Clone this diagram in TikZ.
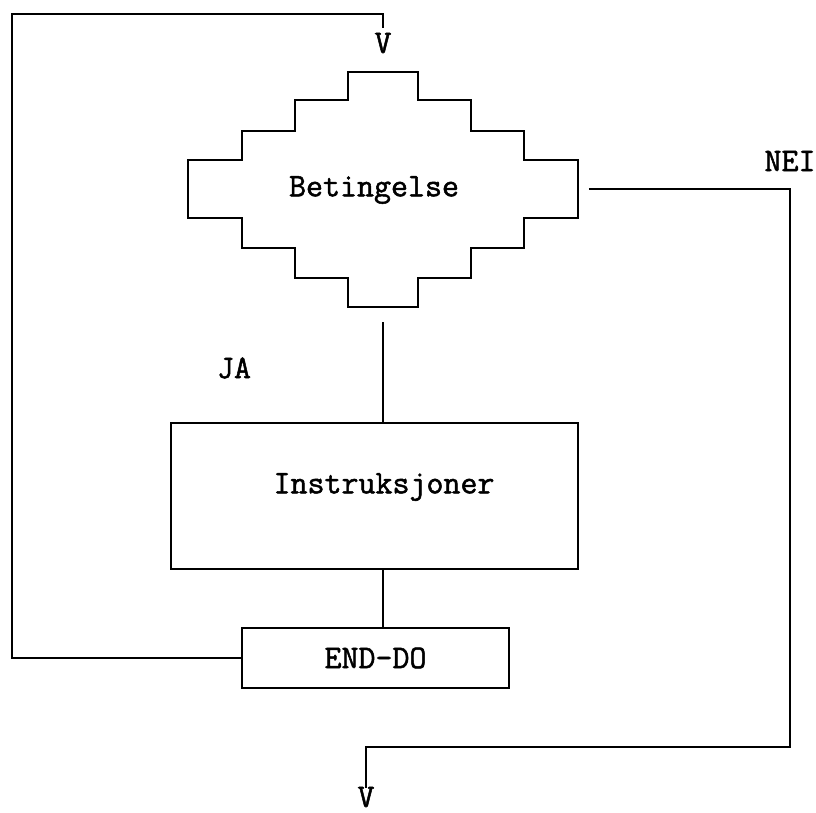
\documentclass[tikz,border=0pt]{standalone}
\usepackage{fontspec}
\newfontfamily\courfont[UprightFeatures={FakeBold=1.5}]{Latin Modern Mono}
\begin{document}
\begin{tikzpicture}[x=1pt,y=-1pt,
  line width=1.5pt, line join=miter,
  lbl/.style={font=\courfont\fontsize{33}{35}\selectfont, inner sep=0pt},
  boxnode/.style={draw, rectangle, inner sep=0pt}]
\useasboundingbox (0,0) rectangle (816,813);
% stepped decision shape
\node[minimum width=390pt, minimum height=235pt, inner sep=0pt] (cond) at (383,189) {};
\draw (348,72) -- (418,72) -- (418,100) -- (471,100) -- (471,131) -- (524,131)
  -- (524,160) -- (578,160) -- (578,218) -- (524,218) -- (524,248) -- (471,248)
  -- (471,278) -- (418,278) -- (418,307) -- (348,307) -- (348,278) -- (295,278)
  -- (295,248) -- (242,248) -- (242,218) -- (188,218) -- (188,160) -- (242,160)
  -- (242,131) -- (295,131) -- (295,100) -- (348,100) -- cycle;
\node[lbl] (condtext) at (374,190) {Betingelse};
% boxes
\node[boxnode, minimum width=407pt, minimum height=146pt] (instr) at (374.5,496) {};
\node[lbl] (instrtext) at (384,487) {Instruksjoner};
\node[boxnode, minimum width=267pt, minimum height=60pt, lbl, draw] (enddo) at (375.5,658) {END-DO};
% labels
\node[lbl] (vtop) at (383,43) {V};
\node[lbl] (ja) at (234,368) {JA};
\node[lbl] (nei) at (790,161) {NEI};
\node[lbl] (vbot) at (366,797) {V};
% coordinates
\coordinate (lt) at (12,14);
\coordinate (topin) at (383,28);
\coordinate (r1) at (790,747);
\coordinate (bout) at (366,788);
% connectors
\draw[shorten <=15pt] (cond.south) -- (cond.south |- instr.north);
\draw (cond.south |- instr.south) -- (cond.south |- enddo.north);
\draw (enddo.west) -| (lt) -| (topin);
\draw[shorten <=10pt] (cond.east) -| (r1) -| (bout);
\end{tikzpicture}
\end{document}
